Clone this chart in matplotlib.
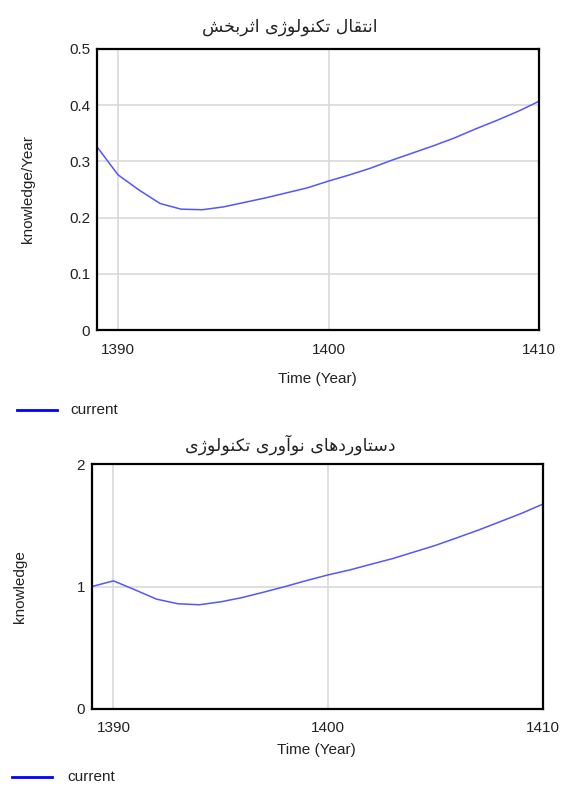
import matplotlib
matplotlib.use("Agg")
import matplotlib.pyplot as plt
from matplotlib.lines import Line2D

# Data
years = list(range(1389, 1411))
transfer = [0.326, 0.276, 0.249, 0.225, 0.215, 0.214, 0.219, 0.227, 0.235, 0.244, 0.253,
            0.265, 0.276, 0.288, 0.302, 0.315, 0.328, 0.342, 0.358, 0.373, 0.389, 0.407]
achieve = [1.0, 1.046, 0.973, 0.897, 0.859, 0.851, 0.875, 0.910, 0.954, 1.0, 1.049,
           1.095, 1.135, 1.182, 1.228, 1.282, 1.336, 1.398, 1.461, 1.529, 1.597, 1.673]

title_top = "انتقال تکنولوژی اثربخش"
title_bottom = "دستاوردهای نوآوری تکنولوژی"
x_ticks = [1390, 1400, 1410]
y_ticks_top = [0, 0.1, 0.2, 0.3, 0.4, 0.5]
y_ticks_bottom = [0, 1, 2]

# Arabic presentation forms: isolated, final, initial, medial
FORMS = {
    'ا': ('\uFE8D', '\uFE8E', None, None),
    'آ': ('\uFE81', '\uFE82', None, None),
    'ب': ('\uFE8F', '\uFE90', '\uFE91', '\uFE92'),
    'ت': ('\uFE95', '\uFE96', '\uFE97', '\uFE98'),
    'ث': ('\uFE99', '\uFE9A', '\uFE9B', '\uFE9C'),
    'خ': ('\uFEA5', '\uFEA6', '\uFEA7', '\uFEA8'),
    'د': ('\uFEA9', '\uFEAA', None, None),
    'ر': ('\uFEAD', '\uFEAE', None, None),
    'س': ('\uFEB1', '\uFEB2', '\uFEB3', '\uFEB4'),
    'ش': ('\uFEB5', '\uFEB6', '\uFEB7', '\uFEB8'),
    'ق': ('\uFED5', '\uFED6', '\uFED7', '\uFED8'),
    'ل': ('\uFEDD', '\uFEDE', '\uFEDF', '\uFEE0'),
    'ن': ('\uFEE5', '\uFEE6', '\uFEE7', '\uFEE8'),
    'ه': ('\uFEE9', '\uFEEA', '\uFEEB', '\uFEEC'),
    'و': ('\uFEED', '\uFEEE', None, None),
    'ژ': ('\uFB8A', '\uFB8B', None, None),
    'ک': ('\uFB8E', '\uFB8F', '\uFB90', '\uFB91'),
    'ی': ('\uFBFC', '\uFBFD', '\uFBFE', '\uFBFF'),
}


def shape(text):
    """Pick joined letter forms and reverse for left-to-right drawing."""
    out = []
    for i, ch in enumerate(text):
        if ch not in FORMS:
            out.append(ch)
            continue
        iso, fin, ini, med = FORMS[ch]
        prev = text[i - 1] if i > 0 else None
        nxt = text[i + 1] if i < len(text) - 1 else None
        join_prev = prev in FORMS and FORMS[prev][2] is not None
        join_next = ini is not None and nxt in FORMS
        if join_prev and join_next:
            out.append(med)
        elif join_prev:
            out.append(fin)
        elif join_next:
            out.append(ini)
        else:
            out.append(iso)
    return ''.join(reversed(out))


plt.rcParams['font.family'] = ['Liberation Sans', 'DejaVu Sans']
W, H = 564, 787
fig = plt.figure(figsize=(W / 100, H / 100), dpi=100)

line_col = '#5555ff'
grid_col = '#d9d9d9'
txt_col = '#222222'


def px_axes(l, t, r, b):
    return fig.add_axes([l / W, 1 - b / H, (r - l) / W, (b - t) / H])


def style(ax, yticks, ylim):
    ax.set_xlim(1389, 1410)
    ax.set_ylim(*ylim)
    ax.set_xticks(x_ticks)
    ax.set_yticks(yticks)
    ax.set_yticklabels([f"{v:g}" for v in yticks])
    ax.grid(True, color=grid_col, linewidth=1.2)
    ax.set_axisbelow(True)
    ax.tick_params(length=0, labelsize=11, colors=txt_col, pad=5)
    ax.tick_params(axis='x', pad=9)
    for s in ax.spines.values():
        s.set_linewidth(1.6)
        s.set_color('black')


# top chart
ax1 = px_axes(97, 49, 539, 330)
ax1.plot(years, transfer, color=line_col, linewidth=1.1)
style(ax1, y_ticks_top, (0, 0.5))
fig.text(290 / W, 1 - 27 / H, shape(title_top), ha='center', va='center',
         fontsize=12.5, family='DejaVu Sans', color=txt_col)
fig.text(317 / W, 1 - 379 / H, "Time (Year)", ha='center', va='center', fontsize=11, color=txt_col)
fig.text(28 / W, 1 - 189 / H, "knowledge/Year", ha='center', va='center', rotation=90,
         fontsize=11, color=txt_col)
fig.add_artist(Line2D([17 / W, 57 / W], [1 - 410 / H] * 2, color='#0000ff', linewidth=2))
fig.text(70 / W, 1 - 410 / H, "current", ha='left', va='center', fontsize=11, color=txt_col)

# bottom chart
ax2 = px_axes(92, 464, 543, 709)
ax2.plot(years, achieve, color=line_col, linewidth=1.1)
style(ax2, y_ticks_bottom, (0, 2))
fig.text(290 / W, 1 - 445 / H, shape(title_bottom), ha='center', va='center',
         fontsize=12.5, family='DejaVu Sans', color=txt_col)
fig.text(316 / W, 1 - 750 / H, "Time (Year)", ha='center', va='center', fontsize=11, color=txt_col)
fig.text(20 / W, 1 - 587 / H, "knowledge", ha='center', va='center', rotation=90,
         fontsize=11, color=txt_col)
fig.add_artist(Line2D([12 / W, 52 / W], [1 - 777 / H] * 2, color='#0000ff', linewidth=2))
fig.text(67 / W, 1 - 777 / H, "current", ha='left', va='center', fontsize=11, color=txt_col)

fig.savefig("out.png", dpi=100)
